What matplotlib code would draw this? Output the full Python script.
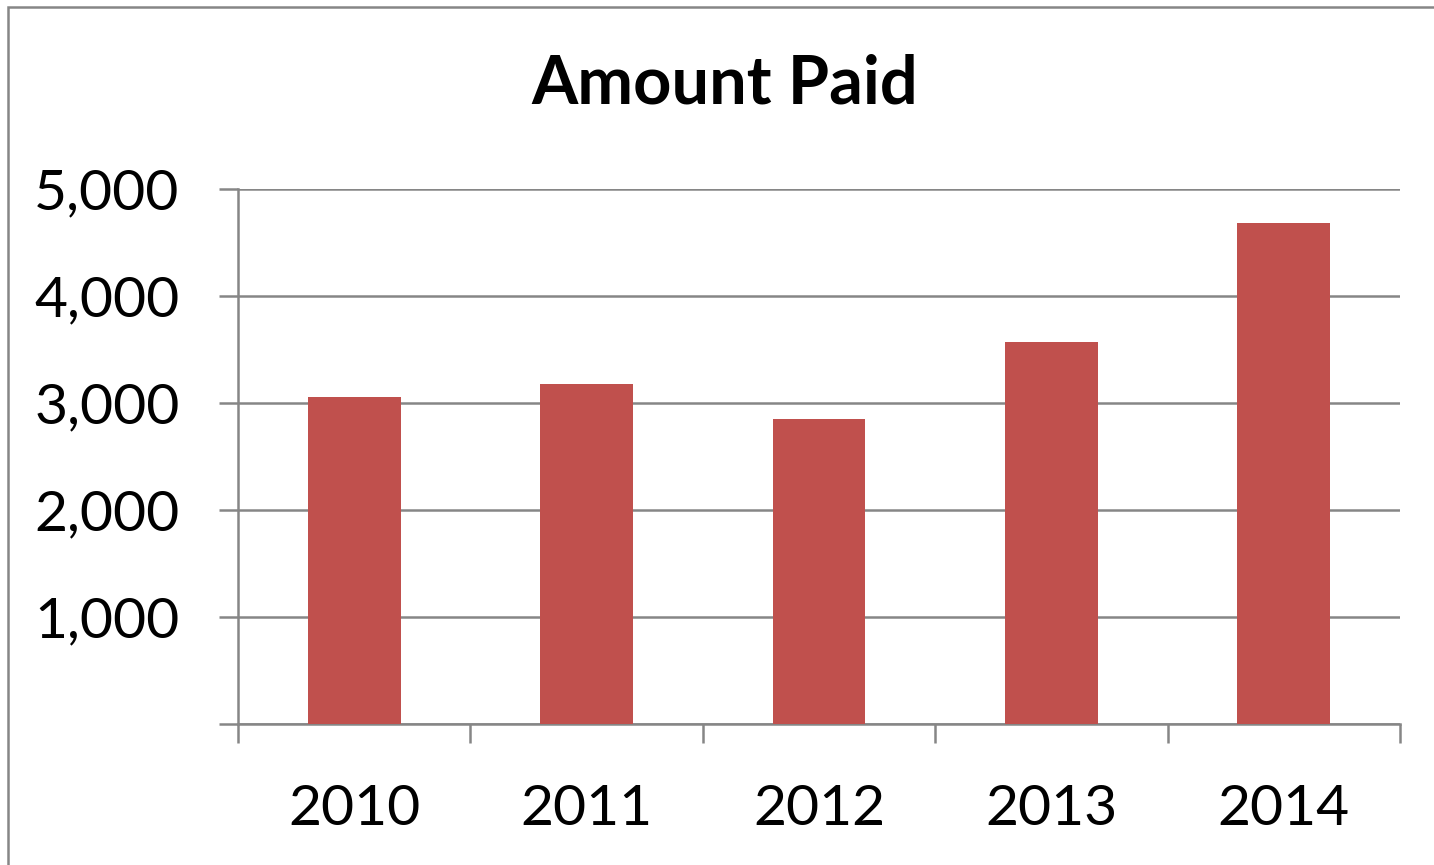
import matplotlib
matplotlib.use("Agg")
import matplotlib.pyplot as plt
from matplotlib.patches import Rectangle
from matplotlib.ticker import FuncFormatter, FixedLocator

years = ["2010", "2011", "2012", "2013", "2014"]
amounts = [3056, 3175, 2850, 3570, 4680]
y_ticks = [0, 1000, 2000, 3000, 4000, 5000]

bar_color = "#C0504D"
line_color = "#868686"

plt.rcParams["font.family"] = ["Lato", "DejaVu Sans"]

fig = plt.figure(figsize=(14.34, 8.65), dpi=100)
W, H = 1434, 865

# chart frame
fig.patches.append(Rectangle((8 / W, -0.1), 1.2, 1 - 7 / H + 0.1,
                             transform=fig.transFigure, fill=False,
                             edgecolor=line_color, linewidth=1.8))

ax = fig.add_axes([238 / W, 1 - 724 / H, (1400 - 238) / W, (724 - 189) / H])
x = list(range(len(years)))
ax.bar(x, amounts, width=0.4, color=bar_color, zorder=3)

ax.set_xlim(-0.5, len(years) - 0.5)
ax.set_ylim(0, 5000)

ax.yaxis.set_major_locator(FixedLocator(y_ticks))
ax.yaxis.set_major_formatter(FuncFormatter(lambda v, p: "" if v == 0 else f"{int(v):,}"))
ax.grid(axis="y", color=line_color, linewidth=1.8, zorder=1)

ax.set_xticks(x)
ax.set_xticklabels(years)
ax.set_xticks([i - 0.5 for i in range(len(years) + 1)], minor=True)

ax.tick_params(axis="x", which="major", length=0, pad=43, labelsize=41)
ax.tick_params(axis="x", which="minor", length=14, width=1.8, color=line_color, direction="out")
ax.tick_params(axis="y", which="major", length=14, width=1.8, color=line_color, pad=28, labelsize=41)

for s in ("top", "right"):
    ax.spines[s].set_visible(False)
for s in ("left", "bottom"):
    ax.spines[s].set_color(line_color)
    ax.spines[s].set_linewidth(1.8)

fig.text(725 / W, 1 - 85 / H, "Amount Paid", ha="center", va="center",
         fontsize=48, fontweight="bold")

fig.savefig("out.png", dpi=100, facecolor="white")
